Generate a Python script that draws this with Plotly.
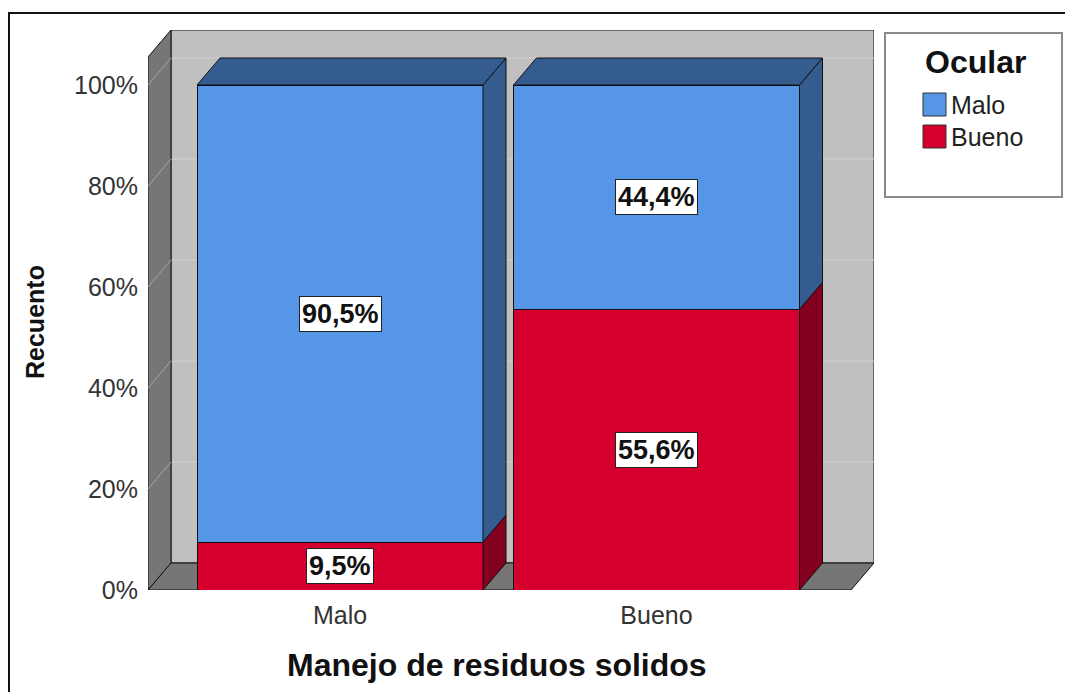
import plotly.graph_objects as go

# ---------------- data ----------------
categories = ["Malo", "Bueno"]
ocular_levels = ["Malo", "Bueno"]
pct_ocular_malo = [90.5, 44.4]
pct_ocular_bueno = [9.5, 55.6]
y_ticks = [0, 20, 40, 60, 80, 100]

# ---------------- style ----------------
FONT = "Liberation Sans, Arial, sans-serif"
BLUE = "#5596e6"
BLUE_DARK = "#345c8e"
RED = "#d5002e"
RED_DARK = "#84001f"
WALL = "#c0c0c0"
SIDE = "#767676"

W, H = 1065, 692
ML, MR, MT, MB = 148, 191, 30, 102
PW = W - ML - MR
PH = H - MT - MB

# 3D geometry (axis units)
unit_x = 316.5            # px per category step
unit_y = 5.05             # px per percent
DX = 23 / unit_x
DY = 27 / unit_y
BAR_W = 286 / unit_x
XL = (ML - 340) / unit_x
XR = XL + PW / unit_x
YTOP = PH / unit_y

xs = list(range(len(categories)))

fig = go.Figure()
fig.add_trace(go.Bar(x=xs, y=pct_ocular_bueno, name=ocular_levels[1], width=BAR_W,
                     marker=dict(color=RED, line=dict(color="#111", width=1)),
                     hoverinfo="skip", showlegend=False))
fig.add_trace(go.Bar(x=xs, y=pct_ocular_malo, name=ocular_levels[0], width=BAR_W,
                     marker=dict(color=BLUE, line=dict(color="#111", width=1)),
                     hoverinfo="skip", showlegend=False))

shapes = []


def poly(pts, fill, layer="below", line="#111", lw=1):
    d = "M " + " L ".join(f"{x},{y}" for x, y in pts) + " Z"
    shapes.append(dict(type="path", path=d, xref="x", yref="y", fillcolor=fill,
                       line=dict(color=line, width=lw), layer=layer))


# back wall, left wall, floor
poly([(XL + DX, DY), (XR, DY), (XR, YTOP), (XL + DX, YTOP)], WALL)
for v in y_ticks[1:]:
    shapes.append(dict(type="line", xref="x", yref="y", x0=XL + DX, x1=XR, y0=v + DY, y1=v + DY,
                       line=dict(color="#d0d0d0", width=1), layer="below"))
poly([(XL, 0), (XL + DX, DY), (XL + DX, YTOP), (XL, YTOP - DY)], SIDE)
for v in y_ticks[1:]:
    shapes.append(dict(type="line", xref="x", yref="y", x0=XL, x1=XL + DX, y0=v, y1=v + DY,
                       line=dict(color="#a6a6a6", width=1), layer="below"))
poly([(XL, 0), (XR - DX, 0), (XR, DY), (XL + DX, DY)], SIDE)

# 3D faces of bars
annotations = []
for i, x in enumerate(xs):
    segs = [(0, pct_ocular_bueno[i], RED_DARK),
            (pct_ocular_bueno[i], pct_ocular_bueno[i] + pct_ocular_malo[i], BLUE_DARK)]
    xr = x + BAR_W / 2
    xl = x - BAR_W / 2
    for b, t, c in segs:
        poly([(xr, b), (xr + DX, b + DY), (xr + DX, t + DY), (xr, t)], c, layer="above")
    top = segs[-1][1]
    poly([(xl, top), (xl + DX, top + DY), (xr + DX, top + DY), (xr, top)], BLUE_DARK, layer="above")
    # value labels
    for (b, t, c), v in zip(segs, [pct_ocular_bueno[i], pct_ocular_malo[i]]):
        annotations.append(dict(x=x, y=(b + t) / 2, xref="x", yref="y",
                                xanchor="center", yanchor="middle",
                                text=f"<b>{v:.1f}%</b>".replace(".", ","), showarrow=False,
                                font=dict(family=FONT, size=27, color="#111"),
                                bgcolor="white", bordercolor="#222", borderwidth=1, borderpad=2))


def px(xp):
    return (xp - ML) / PW


def py(yp):
    return (H - MB - yp) / PH


# outer frame
shapes.append(dict(type="rect", xref="paper", yref="paper", x0=px(9), x1=px(1075), y0=py(705), y1=py(13),
                   line=dict(color="#111", width=2), fillcolor="rgba(0,0,0,0)", layer="above"))
# legend box
shapes.append(dict(type="rect", xref="paper", yref="paper", x0=px(885), x1=px(1062), y0=py(197), y1=py(33),
                   line=dict(color="#8a8a8a", width=2), fillcolor="white", layer="above"))
annotations.append(dict(x=px(975), y=py(62), xref="paper", yref="paper", text="<b>Ocular</b>",
                        xanchor="center", yanchor="middle",
                        showarrow=False, font=dict(family=FONT, size=32, color="#111")))
legend_colors = [BLUE, RED]
for k, (lab, col) in enumerate(zip(ocular_levels, legend_colors)):
    top = 93 + k * 32
    shapes.append(dict(type="rect", xref="paper", yref="paper", x0=px(923), x1=px(946),
                       y0=py(top + 23), y1=py(top), fillcolor=col, line=dict(color="#333", width=1),
                       layer="above"))
    annotations.append(dict(x=px(949), y=py(top + 12), xref="paper", yref="paper", text=lab,
                            xanchor="left", yanchor="middle", showarrow=False,
                            font=dict(family=FONT, size=25, color="#222")))

# axis titles
annotations.append(dict(x=px(35), y=py(322), xref="paper", yref="paper", text="<b>Recuento</b>",
                        xanchor="center", yanchor="middle",
                        textangle=-90, showarrow=False, font=dict(family=FONT, size=25, color="#111")))
annotations.append(dict(x=px(497), y=py(665), xref="paper", yref="paper",
                        xanchor="center", yanchor="middle",
                        text="<b>Manejo de residuos solidos</b>", showarrow=False,
                        font=dict(family=FONT, size=32, color="#111")))

fig.update_layout(
    width=W, height=H, barmode="stack",
    margin=dict(l=ML, r=MR, t=MT, b=MB, pad=0),
    paper_bgcolor="white", plot_bgcolor="white",
    shapes=shapes, annotations=annotations, showlegend=False,
    font=dict(family=FONT, size=25, color="#333"),
    xaxis=dict(range=[XL, XR], tickvals=xs, ticktext=categories, showgrid=False, zeroline=False,
               showline=False, ticks="", ticklabelstandoff=8, fixedrange=True,
               tickfont=dict(family=FONT, size=25, color="#333")),
    yaxis=dict(range=[0, YTOP], tickvals=y_ticks, ticktext=[f"{v}%" for v in y_ticks],
               showgrid=False, zeroline=False, showline=False, ticks="", ticklabelstandoff=9,
               fixedrange=True, tickfont=dict(family=FONT, size=25, color="#333")),
)

fig.write_html("out.html", config={"displayModeBar": False},
               post_script="document.body.style.margin='0';document.body.style.overflow='hidden';")
